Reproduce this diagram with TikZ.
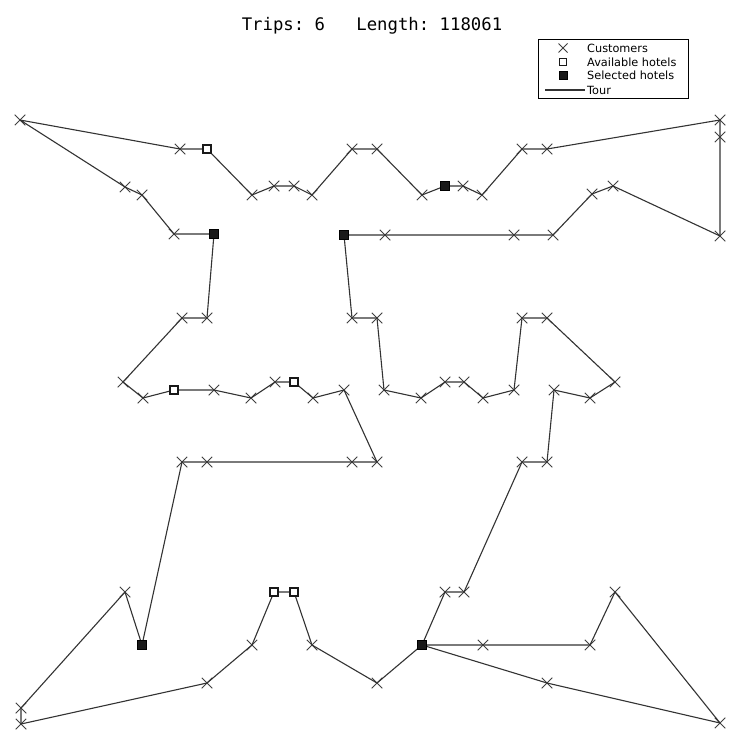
\documentclass[tikz,border=0pt]{standalone}
\usepackage{fontspec}
\setmainfont{DejaVu Sans}
\newfontfamily\titlefont{DejaVu Sans Mono}
\usetikzlibrary{shapes.misc}

\tikzset{
  cust/.style={cross out,draw=black!75,line width=1pt,minimum size=9.5pt,inner sep=0pt},
  hsel/.style={rectangle,draw=black,fill=black!90,minimum size=9pt,inner sep=0pt},
  havail/.style={rectangle,draw=black!90,line width=1.9pt,fill=white,minimum size=8pt,inner sep=0pt},
  tour/.style={black!80,line width=1.1pt,line join=round},
  legtext/.style={anchor=west,inner sep=0pt,font=\fontsize{11.3}{13}\selectfont}
}

\begin{document}
\begin{tikzpicture}[x=1pt,y=-1pt]
\useasboundingbox[fill=white] (0,0) rectangle (731,733);

%--------------------------------------------------- hotels
\node[hsel]   (hs1) at (214,234) {};
\node[hsel]   (hs2) at (344,235) {};
\node[hsel]   (hs3) at (445,186) {};
\node[hsel]   (hs4) at (142,645) {};
\node[hsel]   (hs5) at (422,645) {};
\node[havail] (ha1) at (207,149) {};
\node[havail] (ha2) at (174,390) {};
\node[havail] (ha3) at (294,382) {};
\node[havail] (ha4) at (274,592) {};
\node[havail] (ha5) at (294,592) {};

%--------------------------------------------------- customers
\node[cust] (c01) at (445,592) {};
\node[cust] (c02) at (464,592) {};
\node[cust] (c03) at (522,462) {};
\node[cust] (c04) at (547,462) {};
\node[cust] (c05) at (554,390) {};
\node[cust] (c06) at (590,398) {};
\node[cust] (c07) at (615,382) {};
\node[cust] (c08) at (547,318) {};
\node[cust] (c09) at (522,318) {};
\node[cust] (c10) at (514,390) {};
\node[cust] (c11) at (483,398) {};
\node[cust] (c12) at (464,382) {};
\node[cust] (c13) at (445,382) {};
\node[cust] (c14) at (421,398) {};
\node[cust] (c15) at (384,390) {};
\node[cust] (c16) at (377,318) {};
\node[cust] (c17) at (352,318) {};
\node[cust] (c18) at (385,235) {};
\node[cust] (c19) at (514,235) {};
\node[cust] (c20) at (553,235) {};
\node[cust] (c21) at (592,194) {};
\node[cust] (c22) at (613,186) {};
\node[cust] (c23) at (720,236) {};
\node[cust] (c24) at (720,137) {};
\node[cust] (c25) at (720,120) {};
\node[cust] (c26) at (547,149) {};
\node[cust] (c27) at (522,149) {};
\node[cust] (c28) at (482,195) {};
\node[cust] (c29) at (463,186) {};
\node[cust] (c30) at (422,195) {};
\node[cust] (c31) at (377,149) {};
\node[cust] (c32) at (352,149) {};
\node[cust] (c33) at (312,195) {};
\node[cust] (c34) at (294,186) {};
\node[cust] (c35) at (274,186) {};
\node[cust] (c36) at (252,195) {};
\node[cust] (c37) at (180,149) {};
\node[cust] (c38) at (20,120)  {};
\node[cust] (c39) at (125,187) {};
\node[cust] (c40) at (142,195) {};
\node[cust] (c41) at (174,234) {};
\node[cust] (c42) at (207,318) {};
\node[cust] (c43) at (182,318) {};
\node[cust] (c44) at (123,382) {};
\node[cust] (c45) at (143,398) {};
\node[cust] (c46) at (214,390) {};
\node[cust] (c47) at (251,398) {};
\node[cust] (c48) at (275,382) {};
\node[cust] (c49) at (313,398) {};
\node[cust] (c50) at (344,390) {};
\node[cust] (c51) at (377,462) {};
\node[cust] (c52) at (352,462) {};
\node[cust] (c53) at (207,462) {};
\node[cust] (c54) at (182,462) {};
\node[cust] (c55) at (125,592) {};
\node[cust] (c56) at (21,708)  {};
\node[cust] (c57) at (21,724)  {};
\node[cust] (c58) at (207,683) {};
\node[cust] (c59) at (252,645) {};
\node[cust] (c60) at (312,645) {};
\node[cust] (c61) at (377,683) {};
\node[cust] (c62) at (483,645) {};
\node[cust] (c63) at (590,645) {};
\node[cust] (c64) at (615,592) {};
\node[cust] (c65) at (720,723) {};
\node[cust] (c66) at (547,683) {};

%--------------------------------------------------- tour, trip by trip
\draw[tour] (hs5.center) -- (c01.center) -- (c02.center) -- (c03.center) -- (c04.center)
  -- (c05.center) -- (c06.center) -- (c07.center) -- (c08.center) -- (c09.center)
  -- (c10.center) -- (c11.center) -- (c12.center) -- (c13.center) -- (c14.center)
  -- (c15.center) -- (c16.center) -- (c17.center) -- (hs2.center);
\draw[tour] (hs2.center) -- (c18.center) -- (c19.center) -- (c20.center) -- (c21.center)
  -- (c22.center) -- (c23.center) -- (c24.center) -- (c25.center) -- (c26.center)
  -- (c27.center) -- (c28.center) -- (c29.center) -- (hs3.center);
\draw[tour] (hs3.center) -- (c30.center) -- (c31.center) -- (c32.center) -- (c33.center)
  -- (c34.center) -- (c35.center) -- (c36.center) -- (ha1.center) -- (c37.center)
  -- (c38.center) -- (c39.center) -- (c40.center) -- (c41.center) -- (hs1.center);
\draw[tour] (hs1.center) -- (c42.center) -- (c43.center) -- (c44.center) -- (c45.center)
  -- (ha2.center) -- (c46.center) -- (c47.center) -- (c48.center) -- (ha3.center)
  -- (c49.center) -- (c50.center) -- (c51.center) -- (c52.center) -- (c53.center)
  -- (c54.center) -- (hs4.center);
\draw[tour] (hs4.center) -- (c55.center) -- (c56.center) -- (c57.center) -- (c58.center)
  -- (c59.center) -- (ha4.center) -- (ha5.center) -- (c60.center) -- (c61.center)
  -- (hs5.center);
\draw[tour] (hs5.center) -- (c62.center) -- (c63.center) -- (c64.center) -- (c65.center)
  -- (c66.center) -- (hs5.center);

% markers again on top of the tour
\foreach \h in {hs1,hs2,hs3,hs4,hs5} \node[hsel] at (\h) {};
\foreach \h in {ha1,ha2,ha3,ha4,ha5} \node[havail] at (\h) {};

%--------------------------------------------------- title and legend
\node[font=\titlefont\fontsize{17.3}{20}\selectfont,anchor=base] (title) at (372,31)
  {Trips:\ 6\ \ \ Length:\ 118061};

\draw[black,line width=0.8pt] (538,39) rectangle (688,98);
\node[cust,minimum size=8pt] (lgc) at (563,48) {};
\node[havail,minimum size=7pt,line width=1.2pt] (lga) at (563,62) {};
\node[hsel,minimum size=8pt] (lgs) at (563,75) {};
\coordinate (lgt1) at (545,90);
\coordinate (lgt2) at (585,90);
\draw[tour] (lgt1) -- (lgt2);
\node[legtext] (tc) at (587,48) {Customers};
\node[legtext] (ta) at (587,62) {Available hotels};
\node[legtext] (ts) at (587,75) {Selected hotels};
\node[legtext] (tt) at (587,90) {Tour};

\end{tikzpicture}
\end{document}
